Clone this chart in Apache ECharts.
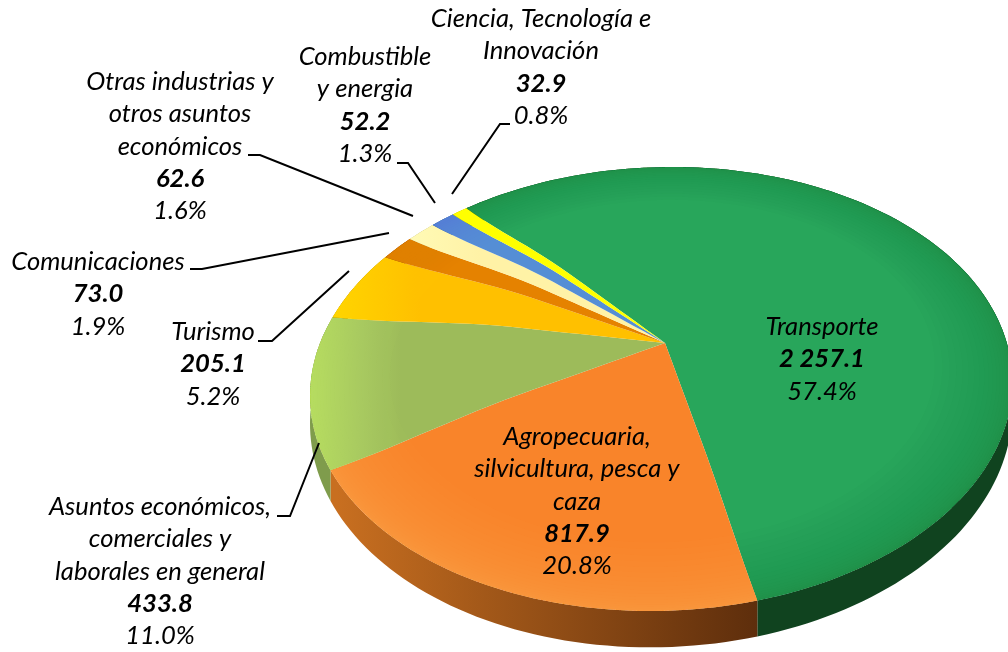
<!DOCTYPE html>
<html>
<head>
<meta charset="utf-8">
<title>Pie</title>
<style>
html,body{margin:0;padding:0;background:#fff;overflow:hidden;}
#main{width:1008px;height:652px;}
</style>
<script src="https://cdn.jsdelivr.net/npm/echarts@6/dist/echarts.min.js"></script>
</head>
<body>
<div id="main"></div>
<script>
// datos
var categories = ['Transporte','Agropecuaria,\nsilvicultura, pesca y\ncaza','Asuntos económicos,\ncomerciales y\nlaborales en general','Turismo','Comunicaciones','Otras industrias y\notros asuntos\neconómicos','Combustible\ny energia','Ciencia, Tecnología e\nInnovación'];
var amounts = [2257.1,817.9,433.8,205.1,73.0,62.6,52.2,32.9];
var amountLabels = ['2 257.1','817.9','433.8','205.1','73.0','62.6','52.2','32.9'];
var shareLabels = ['57.4%','20.8%','11.0%','5.2%','1.9%','1.6%','1.3%','0.8%'];

// colores de cada rebanada: [izquierda, derecha] de la cara, borde, lateral
var faceColors = [['#28a65b','#28a65b'],['#f9842a','#f9842a'],['#b6dc68','#9dbb5a'],['#ffd50a','#ffc000'],['#e58200','#e58200'],['#fffdbb','#fff2a6'],['#558ed5','#558ed5'],['#ffff00','#ffff00']];
var rimColors = ['#1f8a4c','#ffb653','#b6dc68','#ffd50a','#e58200','#fffdbb','#558ed5','#ffff00'];
var sideColors = [['#10431f','#10431f'],['#c86f20','#5e2e0c'],['#7f9c4c','#7f9c4c'],['#b38600','#b38600'],['#a05a00','#a05a00'],['#b3aa70','#b3aa70'],['#3b6395','#3b6395'],['#b3b300','#b3b300']];
var faceRange = [[0,1008],[0,1008],[312,400],[331,420],[0,1008],[385,480],[0,1008],[0,1008]];
var sideRange = [[0,1008],[337,757],[0,1008],[0,1008],[0,1008],[0,1008],[0,1008],[0,1008]];

// posicion de los textos y lineas guia
var labelCenter = [[822,327],[577,437],[160,507],[213,332],[98,262],[180,82],[365,57],[541,19]];
var leaderLines = [
    [[277,516],[290,516],[319,443]],
    [[258,341],[272,341],[349,271]],
    [[190,269],[202,269],[389,233]],
    [[248,155],[260,155],[413,216]],
    [[397,163],[408,163],[435,203]],
    [[510,124],[500,124],[452,194]]
];
var fontName = 'Lato';
var lineGap = 32.2;

// geometria del disco en perspectiva
var cx = 663, cy = 380, ra = 351, rb = 222, apexX = 665, apexY = 343, drop = 9, skew = 11;
var boost = (apexY - cy) / rb;
var startAngle = -41.5;

var total = 0;
for (var i = 0; i < amounts.length; i++) { total += amounts[i]; }
var angles = [startAngle];
for (var i = 0; i < amounts.length; i++) {
    angles.push(angles[i] + amounts[i] / total * 360);
}

function smooth(t) {
    t = Math.max(0, Math.min(1, t));
    return t * t * (3 - 2 * t);
}
// punto del disco: angulo en grados desde arriba, r de 0 a 1
function diskPoint(deg, r) {
    var a = deg * Math.PI / 180;
    var u = r * Math.sin(a), v = -r * Math.cos(a);
    var w = 1 + boost * v;
    var u2 = u * Math.sqrt(1 - boost * boost) / w;
    var v2 = (v + boost) / w;
    return [cx + ra * u2 + (apexX - cx) * (1 - r) - skew * (v2 - boost), cy + rb * v2 + drop * smooth((r - 0.45) / 0.55)];
}
function arc(a0, a1, r) {
    var pts = [], n = Math.max(2, Math.ceil(Math.abs(a1 - a0) / 1.5));
    for (var i = 0; i <= n; i++) { pts.push(diskPoint(a0 + (a1 - a0) * i / n, r)); }
    return pts;
}
function radial(deg, r0, r1) {
    var pts = [];
    for (var i = 0; i <= 24; i++) { pts.push(diskPoint(deg, r0 + (r1 - r0) * i / 24)); }
    return pts;
}
function hGradient(pair, range) {
    return new echarts.graphic.LinearGradient(range[0], 0, range[1], 0, [{offset:0,color:pair[0]},{offset:1,color:pair[1]}], true);
}

function renderSide(params, api) {
    var i = params.dataIndex;
    var top = arc(angles[i], angles[i + 1], 1);
    var bottom = [];
    for (var k = top.length - 1; k >= 0; k--) {
        var depth = 27 + 9 * (top[k][1] - cy) / rb;
        bottom.push([top[k][0], top[k][1] + depth]);
    }
    return {
        type: 'polygon',
        shape: { points: top.concat(bottom) },
        style: { fill: hGradient(sideColors[i], sideRange[i]) }
    };
}

function renderFace(params, api) {
    var i = params.dataIndex, a0 = angles[i], a1 = angles[i + 1];
    var children = [{
        type: 'polygon',
        shape: { points: radial(a0, 0, 1).concat(arc(a0, a1, 1), radial(a1, 1, 0)) },
        style: { fill: hGradient(faceColors[i], faceRange[i]) }
    }];
    // bisel: capas transparentes hacia el borde, mas juntas cerca del borde
    for (var k = 0; k < 20; k++) {
        var q = 1 - k / 20;
        var r = 1 - 0.22 * q * q;
        children.push({
            type: 'polygon',
            shape: { points: radial(a0, r, 1).concat(arc(a0, a1, 1), radial(a1, 1, r), arc(a1, a0, r)) },
            style: { fill: rimColors[i], opacity: 0.03 }
        });
    }
    return { type: 'group', children: children };
}

var graphics = [];
for (var i = 0; i < categories.length; i++) {
    var lines = categories[i].split('\n');
    var y = labelCenter[i][1];
    for (var k = 0; k < lines.length; k++) {
        graphics.push(textLine(labelCenter[i][0], y, lines[k], 'normal'));
        y += lineGap;
    }
    graphics.push(textLine(labelCenter[i][0], y, amountLabels[i], 'bold'));
    y += lineGap;
    graphics.push(textLine(labelCenter[i][0], y, shareLabels[i], 'normal'));
}
function textLine(x, y, text, weight) {
    return {
        type: 'text', x: x, y: y, z: 10,
        style: { text: text, fill: '#000', font: 'italic ' + weight + ' 25.6px ' + fontName, textAlign: 'center', textVerticalAlign: 'middle' }
    };
}
for (var i = 0; i < leaderLines.length; i++) {
    graphics.push({
        type: 'polyline', z: 9,
        shape: { points: leaderLines[i] },
        style: { stroke: '#000', lineWidth: 2, fill: null }
    });
}

var myChart = echarts.init(document.getElementById('main'));
var option = {
    backgroundColor: '#fff',
    animation: false,
    graphic: graphics,
    series: [{
        type: 'custom',
        coordinateSystem: 'none',
        renderItem: renderSide,
        silent: true,
        z: 1,
        data: amounts
    }, {
        type: 'custom',
        coordinateSystem: 'none',
        renderItem: renderFace,
        silent: true,
        z: 2,
        data: amounts
    }]
};
myChart.setOption(option);
</script>
</body>
</html>
